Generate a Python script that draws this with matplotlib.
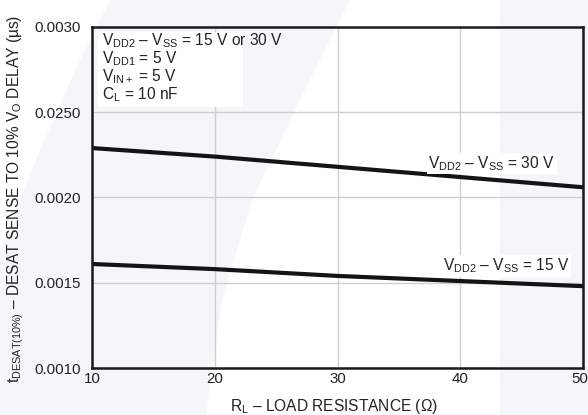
import matplotlib
matplotlib.use("Agg")
import matplotlib.pyplot as plt
import matplotlib.transforms as mtransforms
from matplotlib.patches import Polygon, Rectangle

plt.rcParams["font.family"] = ["Liberation Sans", "DejaVu Sans"]
plt.rcParams["mathtext.fontset"] = "custom"
plt.rcParams["mathtext.rm"] = "Liberation Sans"
plt.rcParams["mathtext.it"] = "Liberation Sans"
plt.rcParams["mathtext.bf"] = "Liberation Sans:bold"

# values
r_load = [10, 20, 30, 40, 50]
t_30v = [0.00229, 0.00224, 0.00218, 0.00212, 0.00206]
t_15v = [0.00161, 0.00158, 0.00154, 0.00151, 0.00148]
y_ticks = [0.0010, 0.0015, 0.0020, 0.0025, 0.0030]
y_tick_labels = ["0.0010", "0.0015", "0.0020", "0.0250", "0.0030"]
x_ticks = [10, 20, 30, 40, 50]
cond_lines = [
    r"$\mathregular{V_{DD2}}$ – $\mathregular{V_{SS}}$ = 15 V or 30 V",
    r"$\mathregular{V_{DD1}}$ = 5 V",
    r"$\mathregular{V_{IN+}}$ = 5 V",
    r"$\mathregular{C_{L}}$ = 10 nF",
]

W, H = 588, 415
fig = plt.figure(figsize=(W / 100, H / 100), dpi=100)
fig.patch.set_facecolor("white")

# faint background watermark
wm = "#f5f6f9"
band = [(110, 0), (350, 0), (300, 100), (252, 200), (222, 300), (206, 415),
        (0, 415), (0, 250), (40, 150), (80, 60)]
fig.patches.append(Polygon([(x / W, 1 - y / H) for x, y in band], closed=True,
                           transform=fig.transFigure, facecolor=wm,
                           edgecolor="none", zorder=-5))
fig.patches.append(Rectangle((500 / W, 0), 88 / W, 1, transform=fig.transFigure,
                             facecolor=wm, edgecolor="none", zorder=-5))

ax = fig.add_axes([92 / W, 1 - 368 / H, 491 / W, 341 / H])
ax.set_zorder(1)
ax.patch.set_alpha(0)

ax.plot(r_load, t_30v, color="#141414", linewidth=3.0, solid_capstyle="butt", zorder=3)
ax.plot(r_load, t_15v, color="#141414", linewidth=3.0, solid_capstyle="butt", zorder=3)

ax.set_xlim(10, 50)
ax.set_ylim(0.0010, 0.0030)
ax.set_xticks(x_ticks)
ax.set_yticks(y_ticks)
ax.set_yticklabels(y_tick_labels)
ax.tick_params(axis="both", length=0, labelsize=10.8, colors="#222222")
ax.tick_params(axis="y", pad=8)
ax.tick_params(axis="x", pad=3)
ax.grid(True, color="#cfcfcf", linewidth=1.0)
for s in ax.spines.values():
    s.set_linewidth(1.8)
    s.set_color("#1a1a1a")
    s.set_zorder(4)

# keep the "50" label inside the picture
last = ax.get_xticklabels()[-1]
last.set_transform(last.get_transform() +
                   mtransforms.ScaledTranslation(-3 / 100, 0, fig.dpi_scale_trans))

# conditions box
ax.add_patch(Rectangle((0.012, 0.765), 0.296, 0.22, transform=ax.transAxes,
                       facecolor="white", edgecolor="none", zorder=2))
for i, txt in enumerate(cond_lines):
    ax.text(10.8, 0.0030 - (14 + 18 * i) / 341 * 0.002, txt, fontsize=11.2,
            va="center", ha="left", color="#222222", zorder=3)

# curve labels
ax.text(37.4, 0.00220, r"$\mathregular{V_{DD2}}$ – $\mathregular{V_{SS}}$ = 30 V",
        fontsize=11.2, va="center", ha="left", color="#222222", zorder=5,
        bbox=dict(facecolor="white", edgecolor="none", pad=1))
ax.text(38.6, 0.001598, r"$\mathregular{V_{DD2}}$ – $\mathregular{V_{SS}}$ = 15 V",
        fontsize=11.2, va="center", ha="left", color="#222222", zorder=5,
        bbox=dict(facecolor="white", edgecolor="none", pad=1))

fig.text(334 / W, 1 - 406 / H, r"$\mathregular{R_{L}}$ – LOAD RESISTANCE (Ω)",
         fontsize=11.2, ha="center", va="center", color="#222222")
fig.text(16 / W, 1 - 199 / H,
         r"$\mathregular{t_{DESAT(10\%)}}$ – DESAT SENSE TO 10% $\mathregular{V_{O}}$ DELAY (µs)",
         fontsize=11.2, ha="center", va="center", rotation=90, color="#222222")

fig.savefig("out.png", dpi=100)
